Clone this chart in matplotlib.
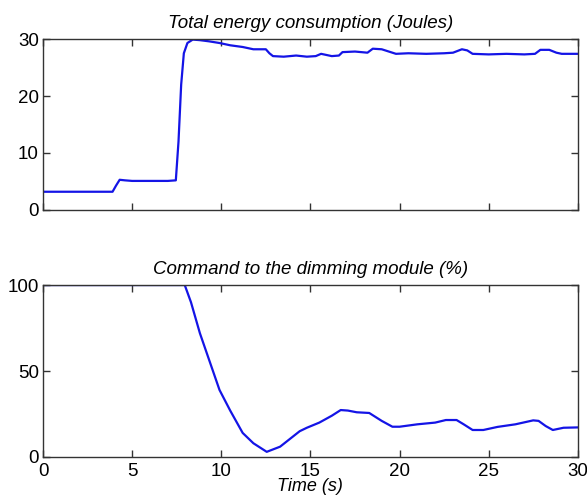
import numpy as np
import matplotlib.pyplot as plt

plt.rcParams['font.family'] = ['Liberation Sans', 'DejaVu Sans']

# energy consumption (Joules)
t_energy = [0, 3.9, 4.1, 4.3, 4.6, 5.0, 6.0, 7.0, 7.45, 7.6, 7.75, 7.9, 8.1, 8.4, 8.8,
            9.3, 9.9, 10.5, 11.2, 11.8, 12.5, 12.7, 12.9, 13.5, 14.2, 14.8, 15.3, 15.6,
            16.2, 16.6, 16.8, 17.5, 18.2, 18.5, 19.0, 19.4, 19.8, 20.5, 21.5, 22.5, 23.0,
            23.5, 23.8, 24.1, 25.0, 26.0, 27.0, 27.6, 27.9, 28.4, 28.8, 29.1, 30.0]
energy = [3.2, 3.2, 4.3, 5.3, 5.2, 5.1, 5.1, 5.1, 5.2, 12.0, 22.0, 27.5, 29.3, 29.9, 29.8,
          29.6, 29.3, 28.9, 28.6, 28.2, 28.2, 27.5, 27.0, 26.9, 27.1, 26.9, 27.0, 27.4,
          27.0, 27.1, 27.7, 27.8, 27.6, 28.3, 28.2, 27.8, 27.4, 27.5, 27.4, 27.5, 27.6,
          28.2, 28.0, 27.4, 27.3, 27.4, 27.3, 27.4, 28.1, 28.1, 27.6, 27.4, 27.4]

# command to the dimming module (%)
t_cmd = [0, 7.95, 8.3, 8.8, 9.4, 9.9, 10.5, 11.2, 11.8, 12.55, 13.3, 14.4, 14.8, 15.5,
         16.2, 16.7, 17.1, 17.6, 18.3, 19.0, 19.6, 20.0, 21.0, 22.0, 22.6, 23.2, 23.6,
         24.1, 24.7, 25.5, 26.5, 27.5, 27.8, 28.2, 28.6, 29.2, 30.0]
command = [100, 100, 90, 72, 54, 39, 27, 14, 8, 3, 6, 15, 17, 20, 24, 27.3, 27, 26,
           25.6, 21, 17.6, 17.6, 19, 20, 21.5, 21.5, 19, 15.7, 15.7, 17.5, 19, 21.3,
           21, 18, 15.7, 17, 17.2]

line_color = '#1414e6'
spine_color = '#333333'

fig = plt.figure(figsize=(5.87, 4.97), dpi=100)
ax1 = fig.add_axes([0.0733, 0.5775, 0.911, 0.344])
ax2 = fig.add_axes([0.0733, 0.0805, 0.911, 0.346])

ax1.plot(t_energy, energy, color=line_color, lw=1.6)
ax1.set_xlim(0, 30)
ax1.set_ylim(0, 30)
ax1.set_yticks([0, 10, 20, 30])
ax1.set_xticks(np.arange(0, 31, 5))
ax1.set_xticklabels([])
ax1.set_title('Total energy consumption (Joules)', fontsize=13.5, style='italic', pad=8)

ax2.plot(t_cmd, command, color=line_color, lw=1.6)
ax2.set_xlim(0, 30)
ax2.set_ylim(0, 100)
ax2.set_yticks([0, 50, 100])
ax2.set_xticks(np.arange(0, 31, 5))
ax2.set_title('Command to the dimming module (%)', fontsize=13.5, style='italic', pad=8)
ax2.set_xlabel('Time (s)', fontsize=13, style='italic', labelpad=-1)

for ax in (ax1, ax2):
    ax.tick_params(direction='in', top=True, right=True, length=5, width=1,
                   labelsize=13.5, colors=spine_color, labelcolor='black')
    ax.tick_params(axis='x', pad=4)
    ax.tick_params(axis='y', pad=3)
    for s in ax.spines.values():
        s.set_color(spine_color)
        s.set_linewidth(1)

fig.savefig('out.png', dpi=100)
